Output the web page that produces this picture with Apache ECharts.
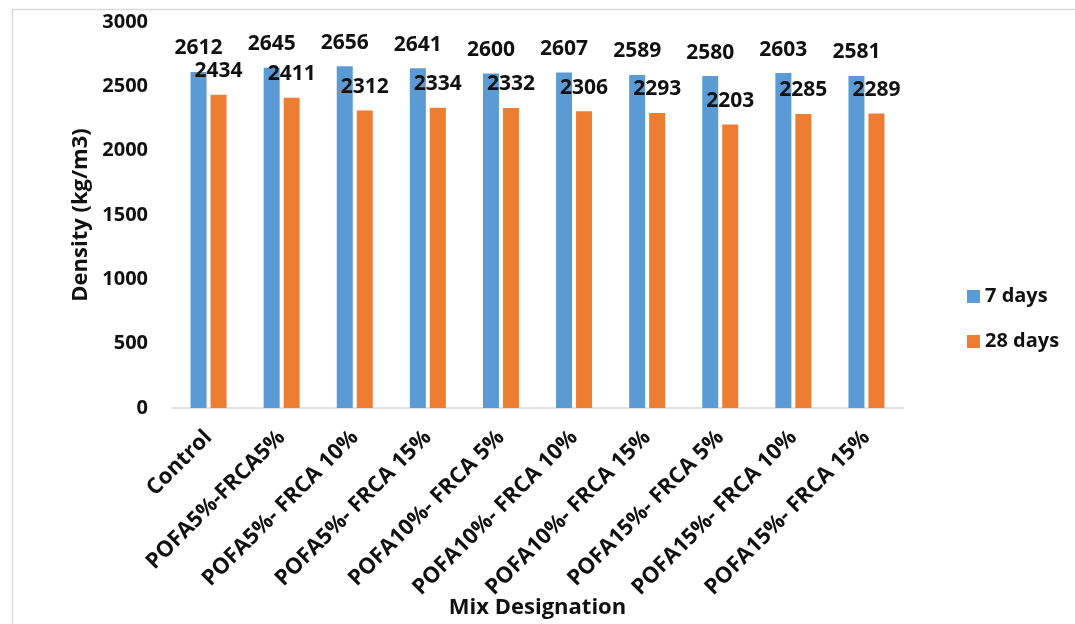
<!DOCTYPE html>
<html>
<head>
<meta charset="utf-8">
<script src="https://cdn.jsdelivr.net/npm/echarts@6/dist/echarts.min.js"></script>
<style>
  html, body { margin: 0; padding: 0; background: #fff; }
  #chart { width: 1075px; height: 624px; }
</style>
</head>
<body>
<div id="chart"></div>
<script>
// Mix designations along the x axis
const categories = [
  'Control',
  'POFA5%-FRCA5%',
  'POFA5%- FRCA 10%',
  'POFA5%- FRCA 15%',
  'POFA10%- FRCA 5%',
  'POFA10%- FRCA 10%',
  'POFA10%- FRCA 15%',
  'POFA15%- FRCA 5%',
  'POFA15%- FRCA 10%',
  'POFA15%- FRCA 15%'
];

// Density (kg/m3) at each curing age
const density7Days = [2612, 2645, 2656, 2641, 2600, 2607, 2589, 2580, 2603, 2581];
const density28Days = [2434, 2411, 2312, 2334, 2332, 2306, 2293, 2203, 2285, 2289];

// Value axis ticks
const yTicks = [0, 500, 1000, 1500, 2000, 2500, 3000];

const FONT = 'Open Sans';
const TEXT = '#111';

const chart = echarts.init(document.getElementById('chart'));

const labelStyle = {
  show: true,
  position: 'top',
  distance: 13,
  fontFamily: FONT,
  fontWeight: 'bold',
  fontSize: 21,
  color: TEXT
};

chart.setOption({
  animation: false,
  backgroundColor: '#fff',
  graphic: [{
    type: 'rect',
    left: 10,
    top: 7,
    shape: { width: 1200, height: 800 },
    style: { fill: 'none', stroke: '#d9d9d9', lineWidth: 1.5 },
    silent: true
  }],
  grid: {
    left: 172, right: 172, top: 22, bottom: 216,
    containLabel: false,
    outerBoundsMode: 'none'
  },
  legend: {
    orient: 'vertical',
    left: 962,
    top: 279,
    itemWidth: 13,
    itemHeight: 13,
    itemGap: 20,
    icon: 'rect',
    textStyle: { fontFamily: FONT, fontWeight: 'bold', fontSize: 20, color: TEXT, lineHeight: 25 },
    data: ['7 days', '28 days']
  },
  xAxis: {
    type: 'category',
    data: categories,
    name: 'Mix Designation',
    nameLocation: 'middle',
    nameGap: 189,
    nameMoveOverlap: false,
    nameTextStyle: { fontFamily: FONT, fontWeight: 'bold', fontSize: 22, color: TEXT },
    axisLine: { lineStyle: { color: '#d9d9d9', width: 1.5 } },
    axisTick: { show: false },
    axisLabel: {
      rotate: 45,
      interval: 0,
      margin: 26,
      fontFamily: FONT,
      fontWeight: 'bold',
      fontSize: 22,
      color: TEXT
    }
  },
  yAxis: {
    type: 'value',
    min: yTicks[0],
    max: yTicks[yTicks.length - 1],
    interval: yTicks[1] - yTicks[0],
    name: 'Density (kg/m3)',
    nameLocation: 'middle',
    nameGap: 80,
    nameMoveOverlap: false,
    nameTextStyle: { fontFamily: FONT, fontWeight: 'bold', fontSize: 22, color: TEXT },
    axisLine: { show: false },
    axisTick: { show: false },
    splitLine: { show: false },
    axisLabel: {
      margin: 24,
      formatter: (v) => String(v),
      fontFamily: FONT,
      fontWeight: 'bold',
      fontSize: 20,
      color: TEXT
    }
  },
  series: [
    {
      name: '7 days',
      type: 'bar',
      data: density7Days,
      barWidth: 16,
      barGap: '25%',
      itemStyle: { color: '#5B9BD5' },
      label: labelStyle
    },
    {
      name: '28 days',
      type: 'bar',
      data: density28Days,
      barWidth: 16,
      itemStyle: { color: '#ED7D31' },
      label: labelStyle
    }
  ]
});
</script>
</body>
</html>
